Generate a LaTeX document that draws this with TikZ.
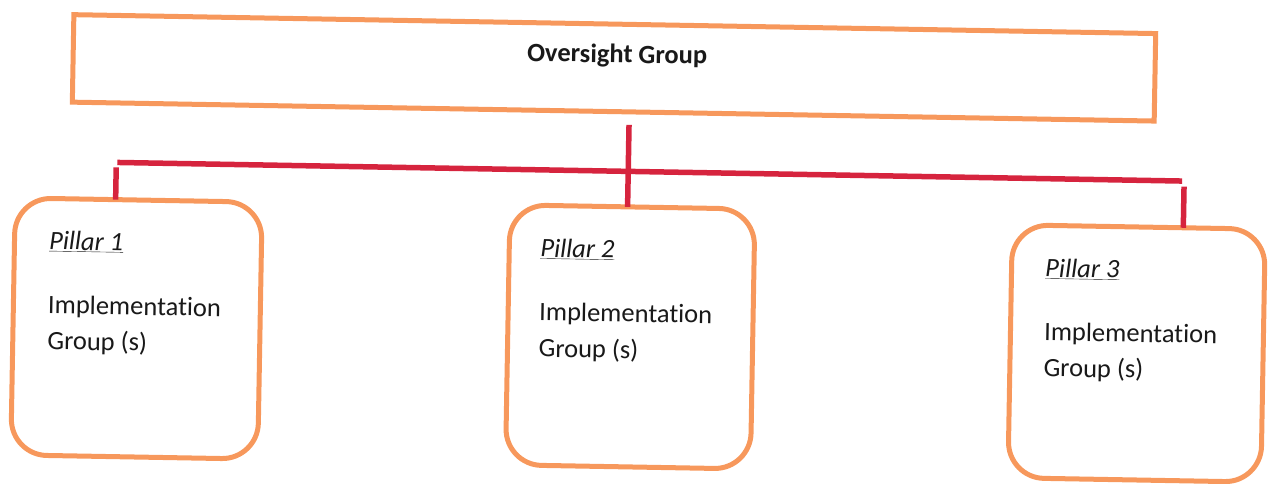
\documentclass[tikz,border=0pt]{standalone}
\usepackage{fontspec}
\setmainfont{Carlito}[Ligatures=NoCommon]
\usetikzlibrary{calc}
\definecolor{boxorange}{RGB}{247,152,92}
\definecolor{linkred}{RGB}{214,36,62}
\tikzset{
  topbox/.style={draw=boxorange, line width=5pt, rectangle, inner sep=0pt, outer sep=0pt, anchor=north west},
  pillarbox/.style={draw=boxorange, line width=5pt, rectangle, rounded corners=36pt, inner sep=0pt, outer sep=0pt, anchor=north west},
  lbl/.style={inner sep=0pt, anchor=base west, font=\fontsize{26.5}{37}\selectfont, text=black!90},
  title/.style={inner sep=0pt, anchor=base, font=\fontsize{26.5}{37}\selectfont\bfseries, text=black!90},
  link/.style={draw=linkred, line width=5.5pt}
}
\begin{document}
\begin{tikzpicture}[x=1pt,y=-1pt]
\useasboundingbox (0,0) rectangle (1270,483);
\begin{scope}[rotate around={-1:(635,241)}, transform shape]
  \node[topbox, minimum width=1082pt, minimum height=87.5pt] (top) at (70,24.5) {};
  \node[title] (toptext) at (614,63) {Oversight Group};

  \node[pillarbox, minimum width=247pt, minimum height=257pt] (p1) at (14.6,208.7) {};
  \node[pillarbox, minimum width=245pt, minimum height=260pt] (p2) at (509.4,207) {};
  \node[pillarbox, minimum width=253pt, minimum height=253pt] (p3) at (1012,218.2) {};

  \node[lbl] (p1a) at ($(p1.north west)+(34.5,51)$) {\underline{\textit{Pillar 1}}};
  \node[lbl] (p1b) at ($(p1.north west)+(34.5,115)$) {Implementation};
  \node[lbl] (p1c) at ($(p1.north west)+(34.5,151)$) {Group (s)};

  \node[lbl] (p2a) at ($(p2.north west)+(31,51.5)$) {\underline{\textit{Pillar 2}}};
  \node[lbl] (p2b) at ($(p2.north west)+(31,115)$) {Implementation};
  \node[lbl] (p2c) at ($(p2.north west)+(31,151.5)$) {Group (s)};

  \node[lbl] (p3a) at ($(p3.north west)+(33.6,51.5)$) {\underline{\textit{Pillar 3}}};
  \node[lbl] (p3b) at ($(p3.north west)+(33.6,115)$) {Implementation};
  \node[lbl] (p3c) at ($(p3.north west)+(33.6,151)$) {Group (s)};

  \coordinate (c0) at (627,125);
  \coordinate (hl) at (116,171.5);
  \coordinate (hr) at (1181,171.5);
  \coordinate (hl2) at (115,176.5);
  \coordinate (hr2) at (1183,177);
\end{scope}
\draw[link] (c0) -- ($(p2.north west)!(c0)!(p2.north east)$);
\draw[link] (hl) -- (hr);
\draw[link] (hl2) -- ($(p1.north west)!(hl2)!(p1.north east)$);
\draw[link] (hr2) -- ($(p3.north west)!(hr2)!(p3.north east)$);
\end{tikzpicture}
\end{document}
